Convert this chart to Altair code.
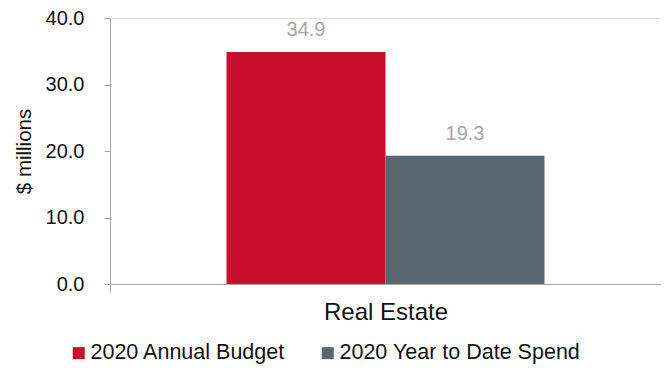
import altair as alt
import pandas as pd

categories = ["Real Estate", "Real Estate"]
series = ["2020 Annual Budget", "2020 Year to Date Spend"]
values = [34.9, 19.3]
colors = ["#C8102E", "#5B6770"]

df = pd.DataFrame({"category": categories, "series": series, "value": values})

FONT = "Liberation Sans"

x = alt.X("category:N", title=None,
          scale=alt.Scale(paddingInner=0, paddingOuter=0),
          axis=alt.Axis(labelAngle=0, labelFontSize=24, labelColor="#111111",
                        labelPadding=8, tickSize=8, tickBand="extent",
                        domainColor="#A6A6A6", tickColor="#A6A6A6",
                        labelFont=FONT))
xo = alt.XOffset("series:N", sort=series,
                 scale=alt.Scale(paddingInner=0, paddingOuter=0.733))
y = alt.Y("value:Q", title="$ millions",
          scale=alt.Scale(domain=[0, 40], nice=False, zero=True),
          axis=alt.Axis(values=[0, 10, 20, 30, 40], format=".1f", grid=False,
                        labelFontSize=20, labelColor="#111111", labelFont=FONT,
                        labelPadding=20, tickSize=6, tickColor="#A6A6A6",
                        domainColor="#A6A6A6", titleFontSize=20.5,
                        titleFontWeight="normal", titleColor="#111111",
                        titleFont=FONT, titlePadding=11))

bars = alt.Chart(df).mark_bar().encode(
    x=x, xOffset=xo, y=y,
    color=alt.Color("series:N", sort=series,
                    scale=alt.Scale(domain=series, range=colors),
                    legend=alt.Legend(title=None, orient="none", direction="horizontal",
                                      legendX=-42, legendY=324,
                                      symbolType="square", symbolSize=144,
                                      symbolStrokeWidth=0, labelFontSize=21.5,
                                      labelFont=FONT, labelColor="#111111",
                                      labelOffset=1, columnPadding=31,
                                      labelLimit=400)),
)

labels = alt.Chart(df).mark_text(baseline="alphabetic", dy=-16, fontSize=20,
                                 color="#A6A6A6", font=FONT).encode(
    x=x, xOffset=xo, y=y, text=alt.Text("value:Q", format=".1f"))

chart = (bars + labels).properties(
    width=551, height=266,
    autosize=alt.AutoSizeParams(type="none"),
    padding={"left": 102, "top": 10, "right": 0, "bottom": 80},
).configure_view(stroke=None).configure(font=FONT)

chart.save("out.html", embed_options={"renderer": "svg", "actions": False})
